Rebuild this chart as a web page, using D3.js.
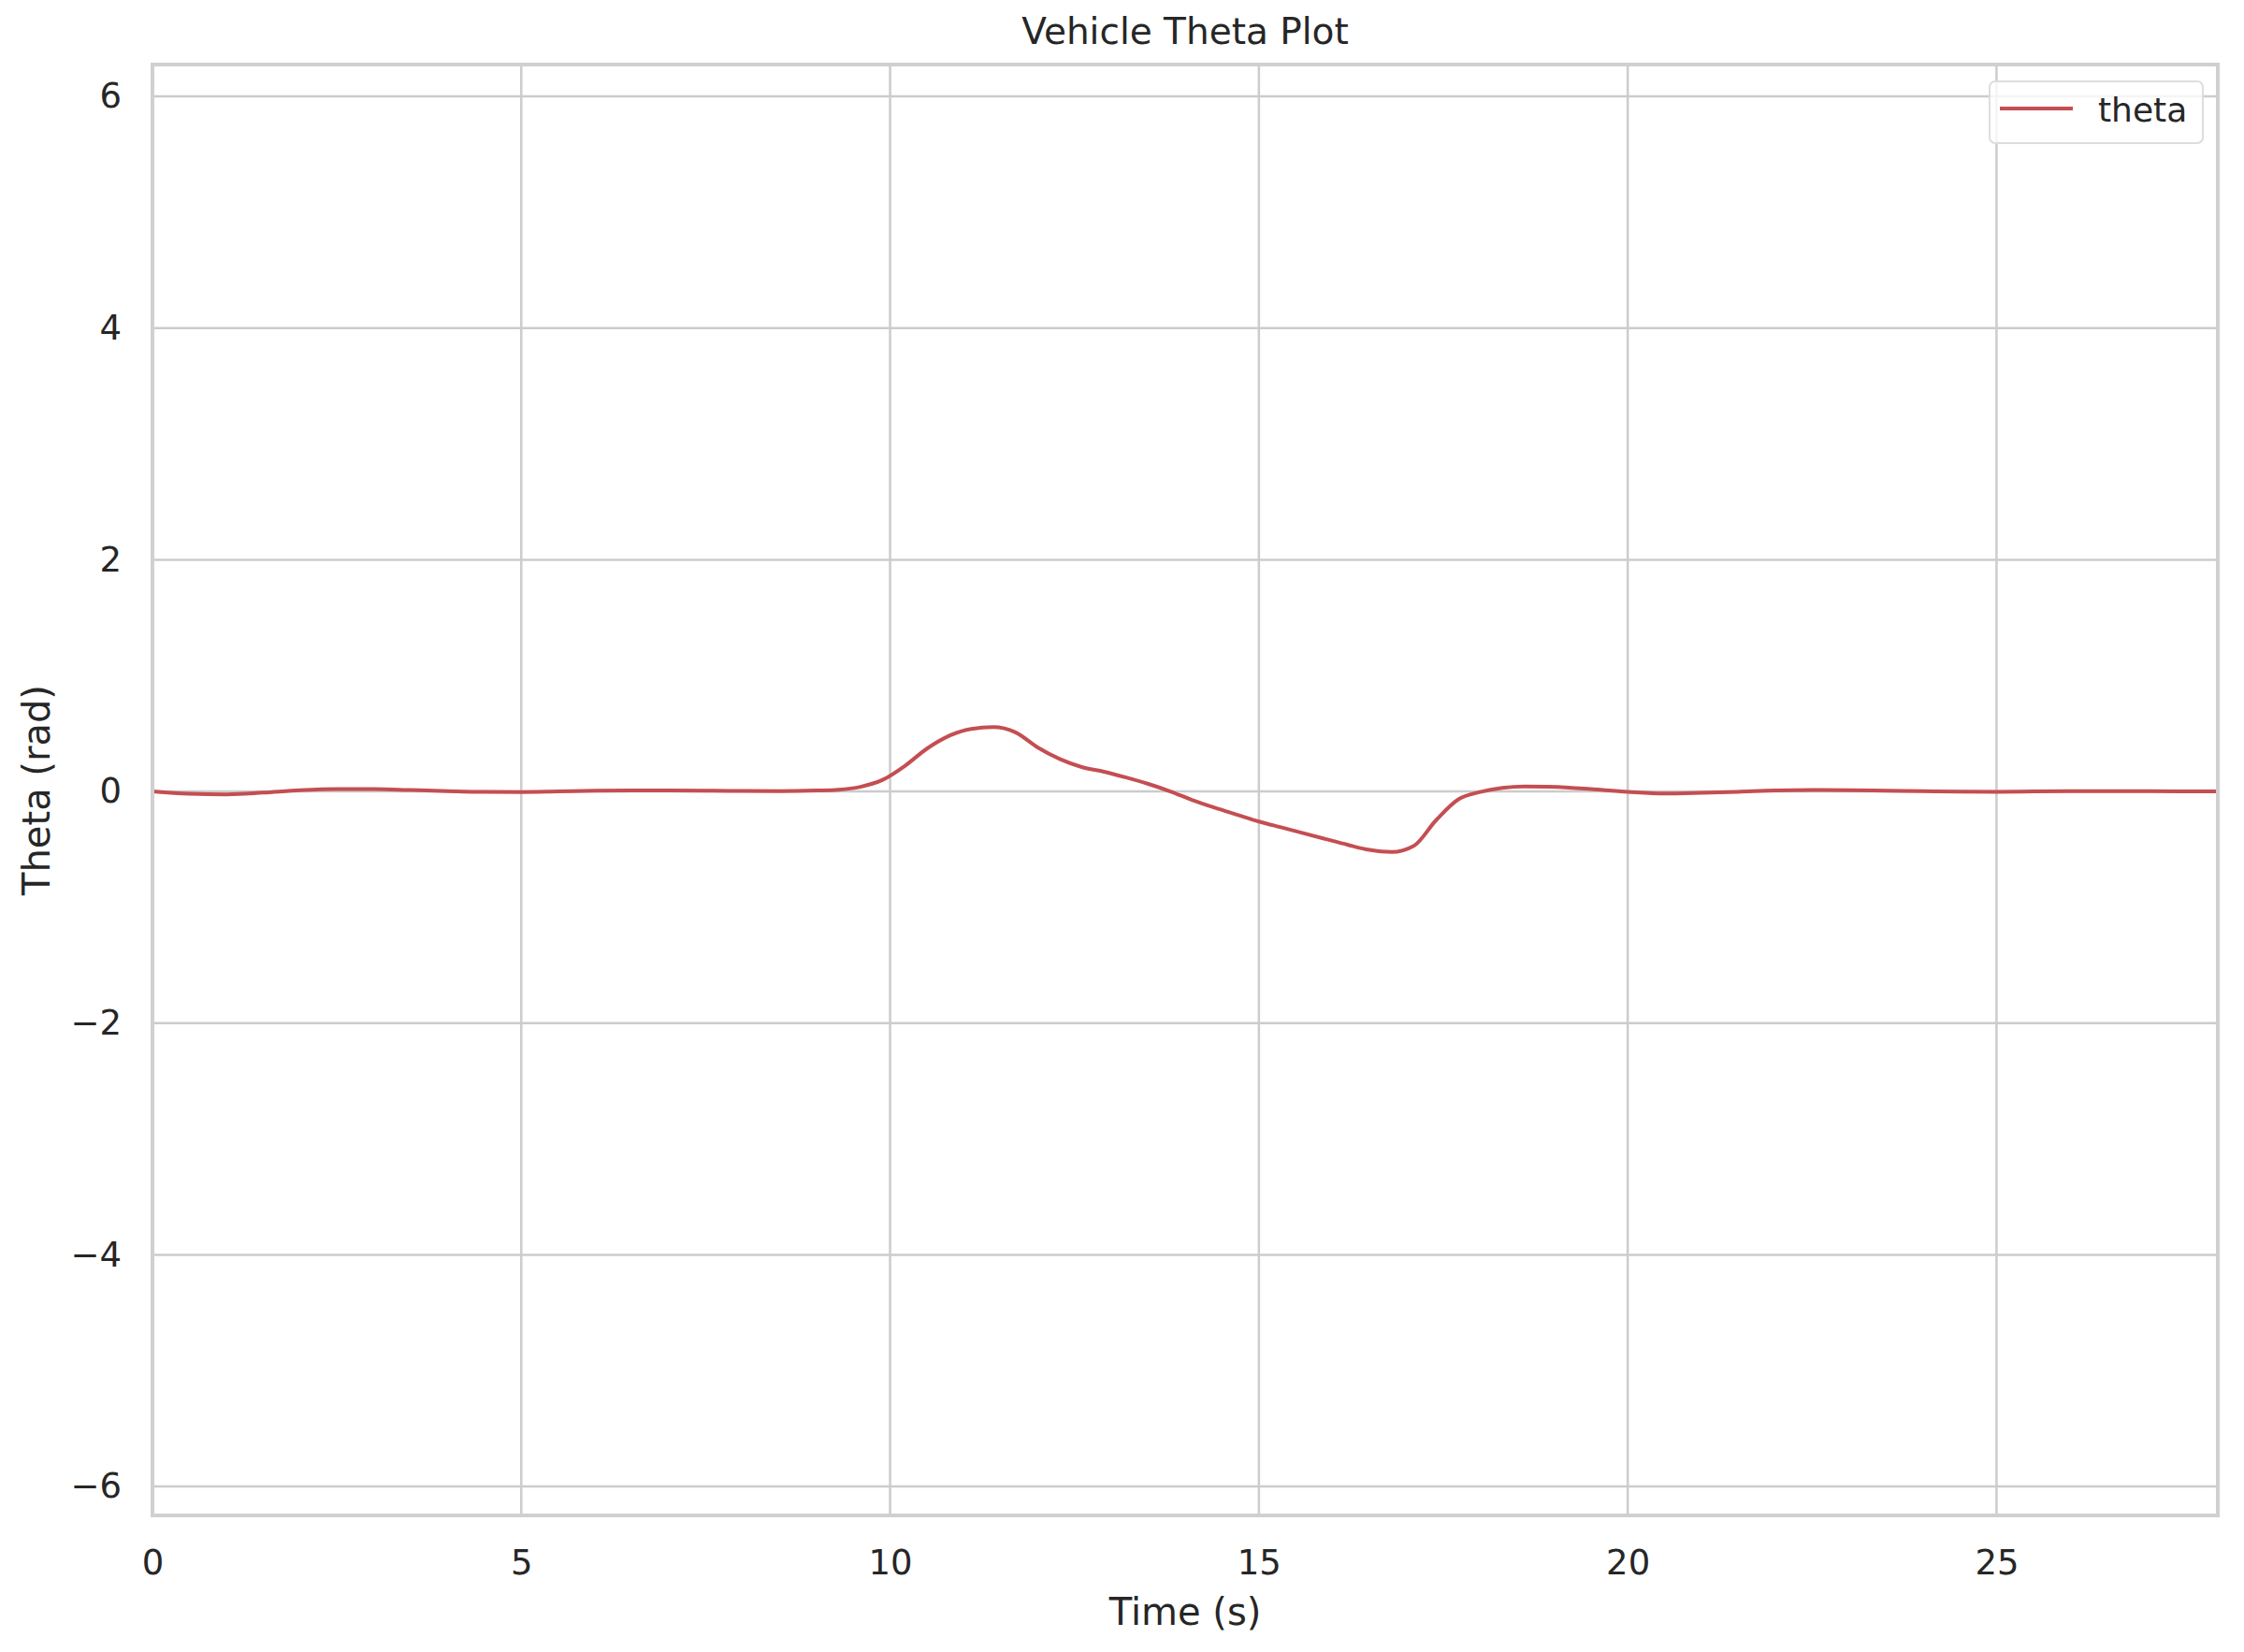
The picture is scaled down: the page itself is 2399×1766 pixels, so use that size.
<!DOCTYPE html>
<meta charset="utf-8">
<style>
body { margin: 0; background: #fff; }
svg { font-family: "DejaVu Sans", sans-serif; }
</style>
<svg width="2399" height="1766"></svg>
<script src="https://cdn.jsdelivr.net/npm/d3@7"></script>
<script>

// time (s) and heading theta (rad)
var time = [0, 0.5, 1, 1.5, 2, 2.5, 3, 3.5, 4, 4.5, 5, 5.5, 6, 6.5, 7, 7.5, 8, 8.5, 9,
  9.3, 9.6, 9.9, 10.2, 10.5, 10.8, 11.1, 11.4, 11.7, 12, 12.3, 12.6, 12.9, 13.2, 13.5,
  13.8, 14.1, 14.4, 14.7, 15, 15.3, 15.6, 15.9, 16.2, 16.5, 16.8, 17.1, 17.4, 17.7, 18,
  18.3, 18.6, 18.9, 19.2, 19.5, 20, 20.5, 21, 21.5, 22, 22.5, 23, 23.5, 24, 24.5, 25,
  25.5, 26, 26.5, 27, 27.5, 28];
var theta = [0, -0.02, -0.025, -0.01, 0.01, 0.02, 0.02, 0.012, 0.003, -0.004, -0.005, 0, 0.006, 0.008, 0.008, 0.007, 0.004, 0.003, 0.008,
  0.015, 0.04, 0.1, 0.22, 0.37, 0.48, 0.54, 0.555, 0.51, 0.38, 0.28, 0.21, 0.17, 0.12, 0.065,
  0.0, -0.075, -0.14, -0.2, -0.26, -0.31, -0.36, -0.41, -0.46, -0.505, -0.523, -0.47, -0.25, -0.07, -0.005,
  0.03, 0.042, 0.04, 0.033, 0.02, -0.003, -0.018, -0.012, -0.003, 0.008, 0.012, 0.01, 0.006, 0.002, -0.002, -0.003,
  0, 0.002, 0.003, 0.002, 0.001, 0];

var xTicks = [0, 5, 10, 15, 20, 25];
var yTicks = [-6, -4, -2, 0, 2, 4, 6];

var svg = d3.select("svg"),
    margin = {top: 69, right: 28, bottom: 146, left: 163},
    width = +svg.attr("width") - margin.left - margin.right,
    height = +svg.attr("height") - margin.top - margin.bottom,
    g = svg.append("g").attr("transform", "translate(" + margin.left + "," + margin.top + ")");

var textColor = "#262626", gridColor = "#cccccc";

var x = d3.scaleLinear().domain([0, 28]).range([0, width]);
var y = d3.scaleLinear().domain([-6.25, 6.275]).range([height, 0]);

// grid
g.append("g")
    .selectAll("line")
    .data(xTicks)
    .enter().append("line")
    .attr("x1", function(d) { return x(d); })
    .attr("x2", function(d) { return x(d); })
    .attr("y1", 0).attr("y2", height)
    .attr("stroke", gridColor).attr("stroke-width", 2.5);

g.append("g")
    .selectAll("line")
    .data(yTicks)
    .enter().append("line")
    .attr("y1", function(d) { return y(d); })
    .attr("y2", function(d) { return y(d); })
    .attr("x1", 0).attr("x2", width)
    .attr("stroke", gridColor).attr("stroke-width", 2.5);

// axes (labels only, no tick marks)
var xAxis = g.append("g")
    .attr("transform", "translate(0," + height + ")")
    .call(d3.axisBottom(x).tickValues(xTicks).tickSize(0).tickPadding(36).tickFormat(d3.format("d")));
var yAxis = g.append("g")
    .call(d3.axisLeft(y).tickValues(yTicks).tickSize(0).tickPadding(33)
      .tickFormat(function(d) { return d < 0 ? "\u2212" + Math.abs(d) : d; }));

[xAxis, yAxis].forEach(function(a) {
  a.select(".domain").remove();
  a.selectAll("text")
    .attr("font-family", "DejaVu Sans, sans-serif")
    .attr("font-size", 37)
    .attr("fill", textColor);
});
xAxis.selectAll("text").attr("dy", null).attr("dominant-baseline", "hanging");

// line
var line = d3.line()
    .x(function(d, i) { return x(time[i]); })
    .y(function(d) { return y(d); })
    .curve(d3.curveMonotoneX);

g.append("path")
    .datum(theta)
    .attr("fill", "none")
    .attr("stroke", "#c44e52")
    .attr("stroke-width", 4)
    .attr("d", line);

// frame
g.append("rect")
    .attr("width", width).attr("height", height)
    .attr("fill", "none")
    .attr("stroke", "#d0d0d0").attr("stroke-width", 4);

// title and labels
svg.append("text")
    .attr("x", margin.left + width / 2).attr("y", 47)
    .attr("text-anchor", "middle")
    .attr("font-size", 39).attr("fill", textColor)
    .text("Vehicle Theta Plot");

svg.append("text")
    .attr("x", margin.left + width / 2).attr("y", 1737)
    .attr("text-anchor", "middle")
    .attr("font-size", 40).attr("fill", textColor)
    .text("Time (s)");

svg.append("text")
    .attr("transform", "translate(53," + (margin.top + height / 2) + ") rotate(-90)")
    .attr("text-anchor", "middle")
    .attr("font-size", 40).attr("fill", textColor)
    .text("Theta (rad)");

// legend
var legend = svg.append("g").attr("transform", "translate(2127,87)");
legend.append("rect")
    .attr("width", 228).attr("height", 66)
    .attr("rx", 6)
    .attr("fill", "#fff").attr("fill-opacity", 0.8)
    .attr("stroke", "#dddddd").attr("stroke-width", 2);
legend.append("line")
    .attr("x1", 11).attr("x2", 89)
    .attr("y1", 29).attr("y2", 29)
    .attr("stroke", "#c44e52").attr("stroke-width", 4);
legend.append("text")
    .attr("x", 116).attr("y", 43)
    .attr("font-size", 36).attr("fill", textColor)
    .text("theta");

</script>
